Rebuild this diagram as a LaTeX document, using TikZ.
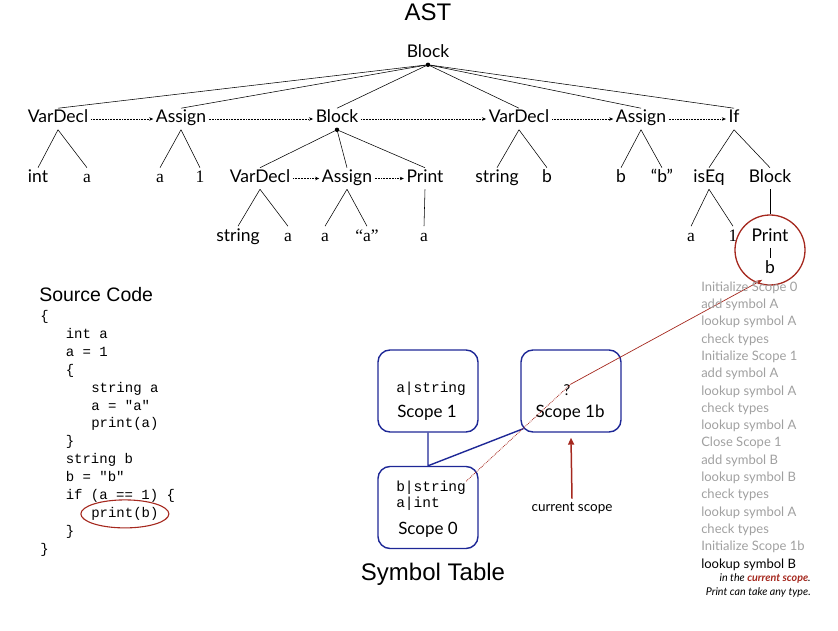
\documentclass[tikz,border=0pt]{standalone}
\usepackage{fontspec}
\setmainfont{Lato}
\setmonofont{Liberation Mono}
\newfontfamily\helv{Liberation Sans}
\newfontfamily\leaffont{Liberation Serif}
\usetikzlibrary{arrows.meta,shapes.geometric,positioning,calc}
\definecolor{hotred}{RGB}{165,40,30}
\definecolor{scopeblue}{RGB}{30,40,150}
\definecolor{stepgray}{RGB}{160,160,160}

\begin{document}
\begin{tikzpicture}[x=1pt,y=-1pt,line width=0.55pt,
  astnode/.style={font=\fontsize{17.5}{17.5}\selectfont,text height=12pt,text depth=4pt,inner sep=2.5pt},
  leafnode/.style={astnode,font=\leaffont\fontsize{17.5}{17.5}\selectfont},
  sibling/.style={densely dotted,-{Stealth[length=4pt,width=3.5pt]}},
  codeline/.style={font=\ttfamily\fontsize{14}{14}\selectfont,anchor=west,inner sep=0pt,text height=10pt,text depth=3pt},
  scopebox/.style={draw=scopeblue,line width=1.4pt,rounded corners=12pt,minimum width=100pt,minimum height=82pt},
  symline/.style={font=\ttfamily\fontsize{14.5}{14.5}\selectfont,anchor=west,inner sep=0pt,text height=10pt,text depth=3pt},
  scopename/.style={font=\fontsize{17}{17}\selectfont,inner sep=0pt,text height=12pt,text depth=4pt},
  stepline/.style={font=\fontsize{13}{13}\selectfont,anchor=west,inner sep=0pt,text height=9.5pt,text depth=3pt,text=stepgray},
  noteline/.style={font=\itshape\fontsize{10.7}{10.7}\selectfont,anchor=east,inner sep=0pt}
]
\useasboundingbox (0,0) rectangle (838,631);

% titles
\node[font=\helv\fontsize{24}{24}\selectfont] (asttitle) at (428,12) {AST};
\node[font=\helv\fontsize{19.5}{19.5}\selectfont,anchor=west,inner sep=0pt] (srctitle) at (39,295) {Source Code};
\node[font=\helv\fontsize{24}{24}\selectfont] (symtitle) at (433,574) {Symbol Table};

% AST
\node[astnode] (root) at (428,54) {Block};

\node[astnode] (vd1) at (58,119) {VarDecl};
\node[astnode] (as1) at (181,119) {Assign};
\node[astnode] (blk1) at (337,119) {Block};
\node[astnode] (vd2) at (519,119) {VarDecl};
\node[astnode] (as2) at (641,119) {Assign};
\node[astnode] (if1) at (734,119) {If};

\node[astnode] (int1) at (38,178.5) {int};
\node[leafnode] (a1) at (87,178.5) {a};
\node[leafnode] (a2) at (160,178.5) {a};
\node[leafnode] (one1) at (200,178.5) {1};
\node[astnode] (vd3) at (260,178.5) {VarDecl};
\node[astnode] (as3) at (347,178.5) {Assign};
\node[astnode] (pr1) at (425,178.5) {Print};
\node[astnode] (str1) at (497,178.5) {string};
\node[astnode] (b1) at (547,178.5) {b};
\node[astnode] (b2) at (621,178.5) {b};
\node[astnode] (qb) at (662,178.5) {“b”};
\node[astnode] (eq1) at (709,178.5) {isEq};
\node[astnode] (blk2) at (770,178.5) {Block};

\node[astnode] (str2) at (238,237) {string};
\node[leafnode] (a3) at (288,237) {a};
\node[leafnode] (a4) at (325,237) {a};
\node[leafnode] (qa) at (367,237) {“a”};
\node[leafnode] (a5) at (424,237) {a};
\node[leafnode] (a6) at (691,237) {a};
\node[leafnode] (one2) at (733,237) {1};
\node[astnode] (pr2) at (770,237) {Print};
\node[astnode] (b3) at (770,269) {b};

\node[draw=hotred,circle,line width=1.3pt,minimum size=70pt,inner sep=0pt] (focus) at (770,250) {};

\coordinate (rootdot) at (root.south);
\coordinate (blkdot) at (blk1.south);
\fill (rootdot) circle (2.2pt);
\fill (blkdot) circle (2.2pt);

\foreach \c in {vd1,as1,blk1,vd2,as2,if1}
  \draw (rootdot) -- (\c.north);

\path
(vd1.south) edge (int1.north)
(vd1.south) edge (a1.north)
(as1.south) edge (a2.north)
(as1.south) edge (one1.north)
(blkdot) edge (vd3.north)
(blkdot) edge (as3.north)
(blkdot) edge (pr1.north)
(vd2.south) edge (str1.north)
(vd2.south) edge (b1.north)
(as2.south) edge (b2.north)
(as2.south) edge (qb.north)
(if1.south) edge (eq1.north)
(if1.south) edge (blk2.north)
(vd3.south) edge (str2.north)
(vd3.south) edge (a3.north)
(as3.south) edge (a4.north)
(as3.south) edge (qa.north)
(pr1.south) edge (a5.north)
(eq1.south) edge (a6.north)
(eq1.south) edge (one2.north)
(blk2.south) edge (focus.north)
(pr2.south) edge (b3.north);

\path[sibling]
(vd1) edge (as1)
(as1) edge (blk1)
(blk1) edge (vd2)
(vd2) edge (as2)
(as2) edge (if1)
(vd3) edge (as3)
(as3) edge (pr1);

% source code
\foreach \ind/\txt [count=\i] in {0/\{, 1/int a, 1/a = 1, 1/\{, 2/string a, 2/a = "a", 2/print(a), 1/\}, 1/string b, 1/b = "b", 1/if (a == 1) \{, 2/print(b), 1/\}, 0/\}}
  \node[codeline] (code\i) at ({40 + 25.5*\ind}, {317 + 17.9*(\i-1)}) {\txt};
\node[draw=hotred,ellipse,line width=1.1pt,minimum width=88pt,minimum height=28pt,inner sep=0pt] (codering) at (code12.center) {};

% symbol table
\node[scopebox] (scopeI) at (428,391) {};
\node[scopebox] (scopeIb) at (571,391) {};
\node[scopebox] (scopeO) at (428,507.5) {};

\node[symline] (symA) at (396,389) {a|string};
\node[scopename] (nameI) at (427,413) {Scope 1};
\node[font=\fontsize{15}{15}\selectfont,inner sep=0pt] (qmark) at (567,390) {?};
\node[scopename] (nameIb) at (570,413) {Scope 1b};
\node[symline] (symB) at (396,488) {b|string};
\node[symline] (symAint) at (396,504) {a|int};
\node[scopename] (nameO) at (428,530) {Scope 0};

\draw[scopeblue,line width=1.4pt] (scopeI.south) -- (scopeO.north) -- ([shift={(3,-4)}]scopeIb.south west);

\node[font=\fontsize{13.5}{13.5}\selectfont] (curlabel) at (572,508) {current scope};
\draw[hotred,line width=1.5pt,-{Triangle[length=7pt,width=6pt]}] (curlabel.north) -- ($(scopeIb.south)+(0,5)$);

\draw[hotred,densely dotted,line width=0.8pt] (symB.north east) -- (qmark.north east);
\draw[hotred,line width=0.7pt,-{Stealth[length=6pt,width=4pt]}] (qmark.north east) -- (b3.south west);

% steps
\foreach \txt [count=\i] in {Initialize Scope 0, add symbol A, lookup symbol A, check types, Initialize Scope 1, add symbol A, lookup symbol A, check types, lookup symbol A, Close Scope 1, add symbol B, lookup symbol B, check types, lookup symbol A, check types, Initialize Scope 1b}
  \node[stepline] (step\i) at (701, {288 + 17.3*(\i-1)}) {\txt};
\node[stepline,text=black] (step17) at (701,565) {lookup symbol B};
\node[noteline] (note1) at (811,578) {in the \textcolor{hotred}{\bfseries current scope}.};
\node[noteline] (note2) at (811,592) {Print can take any type.};

\end{tikzpicture}
\end{document}
